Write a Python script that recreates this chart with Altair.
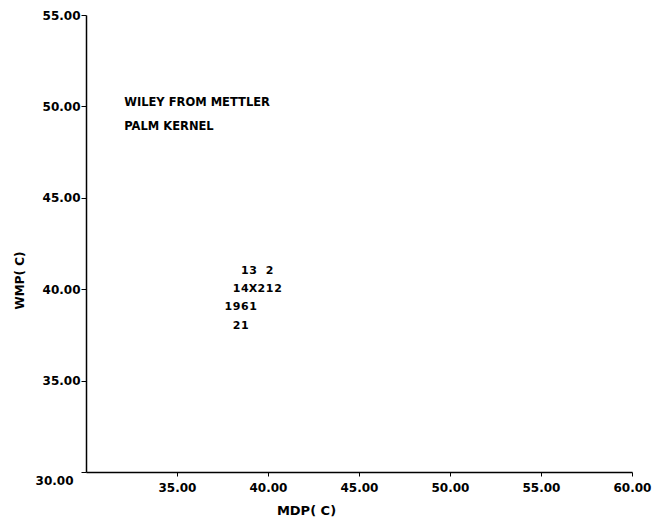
import altair as alt
import pandas as pd

# character-plot symbols (counts of coincident points)
mdp = [38.73, 39.18, 40.09,
       38.27, 38.73, 39.18, 39.64, 40.09, 40.55,
       37.82, 38.27, 38.73, 39.18,
       38.27, 38.73]
wmp = [41, 41, 41,
       40, 40, 40, 40, 40, 40,
       39, 39, 39, 39,
       38, 38]
symbols = ["1", "3", "2",
           "1", "4", "X", "2", "1", "2",
           "1", "9", "6", "1",
           "2", "1"]

note_text = ["WILEY FROM METTLER", "PALM KERNEL"]
note_x = [32.1, 32.1]
note_y = [50.2, 48.85]

x_ticks = [35, 40, 45, 50, 55, 60]
y_ticks = [30, 35, 40, 45, 50, 55]

FONT = "DejaVu Sans"

pts = pd.DataFrame({"mdp": mdp, "wmp": wmp, "sym": symbols})
notes = pd.DataFrame({"x": note_x, "y": note_y, "t": note_text})

xscale = alt.Scale(domain=[30, 60], nice=False, zero=False)
yscale = alt.Scale(domain=[30, 55], nice=False, zero=False)

xaxis = alt.Axis(
    values=x_ticks, format=".2f", grid=False,
    domainColor="black", domainWidth=1.5,
    tickColor="black", tickWidth=1, tickSize=4,
    labelFont=FONT, labelFontWeight="bold", labelFontSize=12,
    labelColor="black", labelPadding=6, labelFlush=False,
    title="MDP( C)", titleFont=FONT, titleFontWeight="bold",
    titleFontSize=13, titleColor="black",
    titleX=220, titleY=38, titleAlign="center", titleBaseline="middle",
)
yaxis = alt.Axis(
    values=y_ticks, format=".2f", grid=False,
    domainColor="black", domainWidth=1.5,
    tickColor="black", tickWidth=1, tickSize=5,
    labelFont=FONT, labelFontWeight="bold", labelFontSize=12,
    labelColor="black", labelFlush=False,
    labelPadding={"condition": {"test": "datum.value == 30", "value": 8}, "value": 1},
    labelOffset={"condition": {"test": "datum.value == 30", "value": 8}, "value": 0},
    title="WMP( C)", titleFont=FONT, titleFontWeight="bold",
    titleFontSize=12, titleColor="black",
    titleX=-67, titleY=265, titleAlign="center", titleBaseline="middle",
    titleAngle=270,
)

points = alt.Chart(pts).mark_text(
    font=FONT, fontWeight="bold", fontSize=11, color="black",
    baseline="middle", align="center",
).encode(
    x=alt.X("mdp:Q", scale=xscale, axis=xaxis),
    y=alt.Y("wmp:Q", scale=yscale, axis=yaxis),
    text="sym:N",
)

annot = alt.Chart(notes).mark_text(
    font=FONT, fontWeight="bold", fontSize=11.5, color="black",
    baseline="middle", align="left",
).encode(
    x=alt.X("x:Q", scale=xscale),
    y=alt.Y("y:Q", scale=yscale),
    text="t:N",
)

chart = alt.layer(points, annot).properties(
    width=546, height=457,
    autosize=alt.AutoSizeParams(type="none"),
    padding={"left": 78, "top": 7, "right": 20, "bottom": 45},
    background="white",
).configure_view(stroke=None)

chart.save("out.html", embed_options={"renderer": "svg", "actions": False})
